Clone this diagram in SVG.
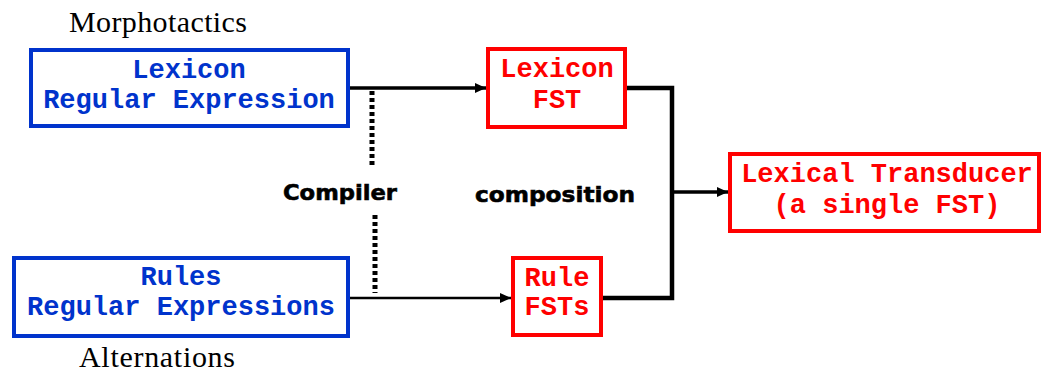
<svg xmlns="http://www.w3.org/2000/svg" width="1043" height="374" viewBox="0 0 1043 374">
  <style>
    .bg { fill: #ffffff; }
    .blue { fill: none; stroke: #0033cc; stroke-width: 4; }
    .red { fill: none; stroke: #ff0000; stroke-width: 4; }
    .mono { font-family: "Liberation Mono", "Courier New", monospace; font-weight: bold; font-size: 27px; text-anchor: middle; }
    .bt { fill: #0033cc; }
    .rt { fill: #ff0000; }
    .serif { font-family: "Liberation Serif", "Times New Roman", serif; font-size: 30px; fill: #000; }
    .sans { font-family: "DejaVu Sans", "Liberation Sans", sans-serif; font-weight: bold; font-size: 22px; fill: #000; stroke: #000; stroke-width: 0.6; }
    .line { fill: none; stroke: #000; }
    .dot { fill: none; stroke: #000; stroke-width: 5; stroke-dasharray: 4 3; }
  </style>
  <defs>
    <marker id="arr" markerUnits="userSpaceOnUse" markerWidth="12" markerHeight="10" refX="11" refY="5" orient="auto">
      <path d="M0,0 L11,5 L0,10 Z" fill="#000"/>
    </marker>
  </defs>
  <rect class="bg" x="0" y="0" width="1043" height="374"/>

  <g id="labels">
    <text class="serif" x="69" y="32" textLength="178">Morphotactics</text>
    <text class="serif" x="79" y="367" textLength="156">Alternations</text>
    <text class="sans" x="283" y="200" textLength="114" lengthAdjust="spacingAndGlyphs">Compiler</text>
    <text class="sans" x="475" y="202" textLength="160" lengthAdjust="spacingAndGlyphs">composition</text>
  </g>

  <g id="connectors">
    <path class="line" d="M350 88 H486" stroke-width="3.5" marker-end="url(#arr)"/>
    <path class="dot" d="M372 91 V166"/>
    <path class="line" d="M350 298 H511" stroke-width="2.5" marker-end="url(#arr)"/>
    <path class="dot" d="M375 215 V293"/>
    <path class="line" d="M627 88 H672 V298 H603" stroke-width="4.5"/>
    <path class="line" d="M672 192 H728" stroke-width="3.5" marker-end="url(#arr)"/>
  </g>

  <g id="lexicon-re">
    <rect class="blue" x="31" y="50" width="317" height="76"/>
    <text class="mono bt" x="189" y="78">Lexicon</text>
    <text class="mono bt" x="189" y="108">Regular Expression</text>
  </g>

  <g id="rules-re">
    <rect class="blue" x="14" y="258" width="334" height="78"/>
    <text class="mono bt" x="181" y="285">Rules</text>
    <text class="mono bt" x="181" y="315">Regular Expressions</text>
  </g>

  <g id="lexicon-fst">
    <rect class="red" x="488" y="49" width="137" height="78"/>
    <text class="mono rt" x="557" y="77">Lexicon</text>
    <text class="mono rt" x="557" y="108">FST</text>
  </g>

  <g id="rule-fsts">
    <rect class="red" x="513" y="258" width="88" height="77"/>
    <text class="mono rt" x="557" y="286">Rule</text>
    <text class="mono rt" x="557" y="315">FSTs</text>
  </g>

  <g id="lexical-transducer">
    <rect class="red" x="730" y="154" width="309" height="77"/>
    <text class="mono rt" x="887" y="182">Lexical Transducer</text>
    <text class="mono rt" x="887" y="213">(a single FST)</text>
  </g>
</svg>
